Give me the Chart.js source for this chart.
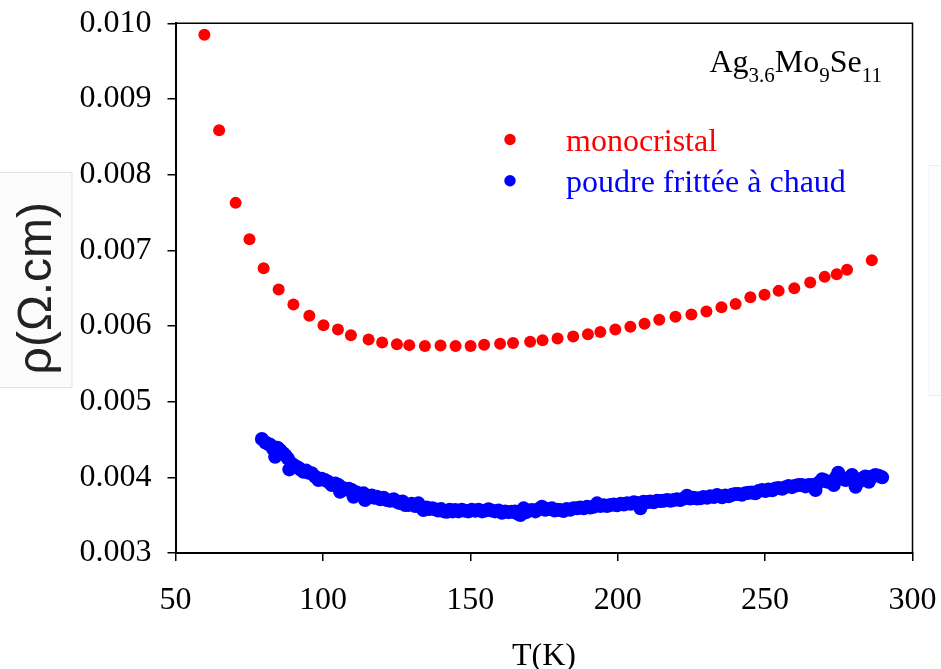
<!DOCTYPE html>
<html>
<head>
<meta charset="utf-8">
<script src="https://cdn.jsdelivr.net/npm/chart.js@4.4.1/dist/chart.umd.min.js"></script>
<style>
  html, body { margin: 0; padding: 0; background: #fff; }
  #wrap { width: 941px; height: 669px; position: relative; }
</style>
</head>
<body>
<div id="wrap"><canvas id="rho-chart"></canvas></div>
<script>
// ── Data ──────────────────────────────────────────────────
const xTicks = [50, 100, 150, 200, 250, 300];
const yTicks = [0.003, 0.004, 0.005, 0.006, 0.007, 0.008, 0.009, 0.010];

const monoLabel = 'monocristal';
const monoT = [59.8, 64.8, 70.4, 75.1, 79.9, 85.0, 90.0, 95.4, 100.2, 105.1, 109.5, 115.5,
  120.1, 125.1, 129.3, 134.6, 139.9, 145.0, 150.1, 154.7, 160.1, 164.5, 170.3, 174.5,
  179.6, 184.9, 189.9, 194.1, 199.2, 204.3, 209.1, 214.1, 219.6, 225.0, 230.1, 235.2,
  240.0, 245.0, 249.8, 254.6, 259.9, 265.3, 270.2, 274.3, 277.8, 286.2];
const monoRho = [0.00985, 0.008587, 0.007627, 0.007147, 0.006764, 0.006483, 0.006285, 0.006134,
  0.006011, 0.005955, 0.005879, 0.005822, 0.005783, 0.005760, 0.005747, 0.005734, 0.005743,
  0.005734, 0.005734, 0.005751, 0.005764, 0.005774, 0.005791, 0.005813, 0.005835, 0.005862,
  0.005892, 0.005919, 0.005954, 0.005989, 0.006029, 0.006081, 0.006121, 0.006153, 0.006192,
  0.006249, 0.006289, 0.006381, 0.006412, 0.006464, 0.0065, 0.006575, 0.006649, 0.006685,
  0.006742, 0.00687];

const powderLabel = 'poudre frittée à chaud';
const powderT = [79.3, 80.5, 81.5, 82.3, 83.0, 83.8, 84.6, 85.5, 86.6, 87.3, 88.1, 88.6, 89.5,
  90.6, 91.7, 92.5, 93.4, 94.3, 95.2, 96.2, 97.3, 98.5, 99.6, 100.7, 101.8, 103.0, 104.2,
  105.3, 105.8, 106.8, 107.9, 108.8, 109.8, 110.4, 111.5, 112.7, 113.8, 114.3, 115.4, 116.6,
  117.5, 118.3, 119.5, 120.6, 121.7, 122.8, 124.0, 125.1, 126.0, 127.0, 127.9, 129.0, 130.1,
  131.3, 132.4, 133.2, 134.1, 135.2, 136.1, 137.1, 138.1, 139.1, 140.1, 141.1, 142.1, 143.0,
  144.0, 144.9, 146.0, 147.1, 148.3, 149.4, 150.5, 151.7, 152.8, 154.0, 155.1, 156.2, 157.3,
  158.4, 159.6, 160.7, 161.8, 163.0, 164.1, 165.2, 166.0, 167.0, 168.1, 169.0, 170.0, 171.0,
  172.1, 173.2, 174.3, 175.4, 176.5, 177.7, 178.6, 179.5, 180.5, 181.6, 182.7, 183.9, 185.0,
  186.2, 187.3, 188.5, 189.6, 190.7, 191.8, 193.0, 194.1, 195.3, 196.4, 197.5, 198.7, 199.8,
  201.0, 202.1, 203.2, 204.4, 205.5, 206.6, 207.7, 208.8, 209.9, 211.0, 212.2, 213.4, 214.5,
  215.6, 216.8, 217.9, 219.0, 220.1, 221.2, 222.4, 223.5, 224.6, 225.7, 226.9, 228.0, 229.1,
  230.3, 231.4, 232.6, 233.7, 234.6, 235.4, 236.5, 237.6, 238.8, 239.9, 241.0, 242.1, 243.3,
  244.4, 245.5, 246.7, 247.8, 249.0, 250.1, 251.2, 252.4, 253.5, 254.6, 255.8, 256.9, 258.0,
  259.1, 260.3, 261.4, 262.5, 263.7, 264.8, 266.0, 267.1, 268.2, 269.3, 270.2, 271.2, 272.2,
  273.3, 274.0, 274.8, 275.5, 276.3, 277.3, 278.4, 279.5, 280.7, 281.8, 282.9, 284.0, 285.2,
  286.3, 287.4, 288.5, 289.7];
const powderRho = [0.004506, 0.00446, 0.00444, 0.004426, 0.00438, 0.004272, 0.00439, 0.00436,
  0.004317, 0.00429, 0.00425, 0.004105, 0.00418, 0.00415, 0.004127, 0.00410, 0.004074, 0.00409,
  0.00406, 0.004053, 0.00401, 0.003964, 0.00398, 0.003964, 0.00394, 0.003898, 0.00392, 0.003898,
  0.00381, 0.00386, 0.00384, 0.00385, 0.003832, 0.003744, 0.00380, 0.00377, 0.003788, 0.0037,
  0.00374, 0.00376, 0.00373, 0.003744, 0.00371, 0.00373, 0.0037, 0.00369, 0.00371, 0.003678,
  0.00366, 0.00368, 0.003634, 0.003634, 0.00365, 0.00362, 0.003656, 0.00361, 0.003568, 0.00360,
  0.00358, 0.00359, 0.003577, 0.00356, 0.00358, 0.00355, 0.003546, 0.00357, 0.00355, 0.003568,
  0.00355, 0.00357, 0.003559, 0.00355, 0.00357, 0.003559, 0.00357, 0.00355, 0.00356, 0.003577,
  0.00356, 0.00355, 0.00356, 0.003532, 0.00355, 0.00354, 0.003546, 0.00355, 0.00352, 0.003502,
  0.00359, 0.00354, 0.00356, 0.003568, 0.00355, 0.00358, 0.003612, 0.00357, 0.00358, 0.00359,
  0.00356, 0.00357, 0.003568, 0.003555, 0.00358, 0.00357, 0.00359, 0.00359, 0.00360, 0.00359,
  0.00361, 0.00360, 0.003612, 0.003656, 0.00362, 0.00363, 0.00362, 0.003634, 0.00364, 0.00363,
  0.00365, 0.00364, 0.003656, 0.00365, 0.00367, 0.00366, 0.00359, 0.003678, 0.00367, 0.00368,
  0.00367, 0.00369, 0.003687, 0.00369, 0.00370, 0.00369, 0.0037, 0.00371, 0.00370, 0.00372,
  0.003757, 0.00372, 0.00373, 0.00372, 0.003722, 0.00374, 0.00373, 0.00375, 0.00374, 0.003766,
  0.00375, 0.003736, 0.00376, 0.00375, 0.00377, 0.003779, 0.00378, 0.00377, 0.00379, 0.003796,
  0.00380, 0.00379, 0.00382, 0.003832, 0.00382, 0.00384, 0.00383, 0.003854, 0.00386, 0.00385,
  0.00387, 0.003885, 0.00387, 0.00389, 0.003898, 0.00390, 0.00388, 0.00390, 0.003898, 0.003832,
  0.00393, 0.003973, 0.00396, 0.00394, 0.003942, 0.003898, 0.00400, 0.004061, 0.00401, 0.00398,
  0.003964, 0.00399, 0.00403, 0.003876, 0.00394, 0.003986, 0.00401, 0.003942, 0.00401, 0.00403,
  0.00402, 0.004];

const SERIF = "'Liberation Serif', 'Times New Roman', serif";
const SANS  = "'Liberation Sans', Arial, sans-serif";

function toPoints(xs, ys) {
    return xs.map((x, i) => ({ x: x, y: ys[i] }));
}

// ── Decorations: pasted label box, frame, legend, formula ──
const decorPlugin = {
    id: 'decor',
    beforeDraw(chart) {
        const ctx = chart.ctx;
        ctx.save();
        // light box behind the y title (pasted image in the original)
        ctx.fillStyle = '#fbfbfb';
        ctx.fillRect(0, 172, 72, 216);
        ctx.strokeStyle = '#e4e4e4';
        ctx.lineWidth = 1;
        ctx.strokeRect(-1, 172.5, 73, 215);
        // faint edge of another box at the right border
        ctx.fillStyle = '#fcfcfc';
        ctx.fillRect(928, 165, 13, 231);
        ctx.strokeStyle = '#ececec';
        ctx.beginPath();
        ctx.moveTo(928, 165.5); ctx.lineTo(941, 165.5);
        ctx.moveTo(928, 395.5); ctx.lineTo(941, 395.5);
        ctx.stroke();
        ctx.strokeStyle = '#f4f4f4';
        ctx.beginPath();
        ctx.moveTo(928.5, 165); ctx.lineTo(928.5, 396);
        ctx.stroke();
        ctx.restore();
    },
    afterDraw(chart) {
        const ctx = chart.ctx;
        const a = chart.chartArea;
        ctx.save();
        // top and right frame lines
        ctx.strokeStyle = '#000';
        ctx.lineWidth = 1.5;
        ctx.beginPath();
        ctx.moveTo(a.left, a.top);
        ctx.lineTo(a.right, a.top);
        ctx.lineTo(a.right, a.bottom);
        ctx.stroke();

        // legend
        chart.data.datasets.forEach((ds, i) => {
            const cy = 139.5 + i * 41.3;
            ctx.fillStyle = ds.backgroundColor;
            ctx.beginPath();
            ctx.arc(510, cy, 5.7, 0, Math.PI * 2);
            ctx.fill();
            ctx.font = '32px ' + SERIF;
            ctx.textAlign = 'left';
            ctx.textBaseline = 'alphabetic';
            ctx.fillText(ds.label, 566, 151 + i * 41);
        });

        // formula Ag3.6Mo9Se11, right aligned
        const parts = [['Ag', false], ['3.6', true], ['Mo', false], ['9', true], ['Se', false], ['11', true]];
        const mainFont = '32px ' + SERIF, subFont = '21px ' + SERIF;
        let total = 0;
        parts.forEach(p => { ctx.font = p[1] ? subFont : mainFont; total += ctx.measureText(p[0]).width; });
        let x = 882 - total;
        ctx.fillStyle = '#000';
        ctx.textAlign = 'left';
        parts.forEach(p => {
            ctx.font = p[1] ? subFont : mainFont;
            ctx.fillText(p[0], x, p[1] ? 82 : 72);
            x += ctx.measureText(p[0]).width;
        });
        ctx.restore();
    }
};

// ── Chart ─────────────────────────────────────────────────
const ctx = document.getElementById('rho-chart').getContext('2d');

new Chart(ctx, {
    type: 'scatter',
    data: {
        datasets: [
            {
                label: monoLabel,
                data: toPoints(monoT, monoRho),
                backgroundColor: '#ff0000',
                borderWidth: 0,
                pointRadius: 6,
                pointHoverRadius: 6
            },
            {
                label: powderLabel,
                data: toPoints(powderT, powderRho),
                backgroundColor: '#0000ff',
                borderWidth: 0,
                pointRadius: 7,
                pointHoverRadius: 7
            }
        ]
    },
    options: {
        responsive: true,
        maintainAspectRatio: false,
        animation: false,
        events: [],
        layout: { padding: { left: 0, right: 28.5, top: 23.3, bottom: 0 } },
        plugins: {
            legend: { display: false },
            tooltip: { enabled: false }
        },
        scales: {
            x: {
                type: 'linear',
                min: 50,
                max: 300,
                afterBuildTicks: s => { s.ticks = xTicks.map(v => ({ value: v })); },
                afterFit: s => { s.height = 116; s.paddingLeft = 0; s.paddingRight = 0; },
                grid: { drawOnChartArea: false, drawTicks: true, tickLength: 8, color: '#000', lineWidth: 1.5 },
                border: { display: true, color: '#000', width: 2 },
                ticks: {
                    color: '#000',
                    padding: 20,
                    maxRotation: 0,
                    font: { family: SERIF, size: 32 },
                    callback: v => String(v)
                },
                title: {
                    display: true,
                    text: 'T(K)',
                    color: '#000',
                    font: { family: SERIF, size: 32, lineHeight: 0.8 },
                    padding: { top: 0, bottom: 0 }
                }
            },
            y: {
                type: 'linear',
                min: 0.003,
                max: 0.010,
                afterBuildTicks: s => { s.ticks = yTicks.map(v => ({ value: v })); },
                afterFit: s => { s.width = 175.5; s.paddingTop = 0; s.paddingBottom = 0; },
                grid: { drawOnChartArea: false, drawTicks: true, tickLength: 8, color: '#000', lineWidth: 1.5 },
                border: { display: true, color: '#000', width: 2 },
                ticks: {
                    color: '#000',
                    padding: 16,
                    font: { family: SERIF, size: 32 },
                    callback: v => Number(v).toFixed(3)
                },
                title: {
                    display: true,
                    text: 'ρ(Ω.cm)',
                    color: '#222',
                    font: { family: SANS, size: 48, lineHeight: 1 },
                    padding: { top: 14, bottom: 0 }
                }
            }
        }
    },
    plugins: [decorPlugin]
});
</script>
</body>
</html>
